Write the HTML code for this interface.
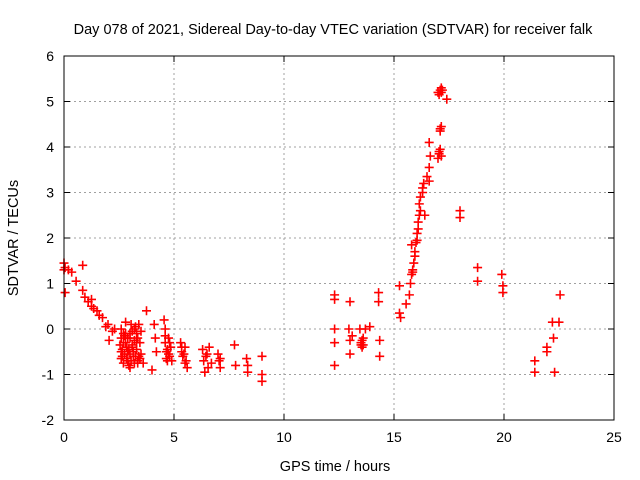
<!DOCTYPE html>
<html><head><meta charset="utf-8"><style>
body{margin:0;background:#fff}
svg{display:block;font-family:"Liberation Sans",sans-serif}
</style></head><body>
<svg id="chart" width="640" height="480" xmlns="http://www.w3.org/2000/svg">
<rect width="640" height="480" fill="#fff"/>
<text x="333" y="34" font-size="14.5" text-anchor="middle">Day 078 of 2021, Sidereal Day-to-day VTEC variation (SDTVAR) for receiver falk</text>
<g id="grid"></g>
<g id="ticks"></g>
<g id="marks"></g>
<rect x="64" y="56" width="550" height="364" fill="none" stroke="#000" stroke-width="1"/>
<text x="335" y="471" font-size="14.5" text-anchor="middle">GPS time / hours</text>
<text x="18" y="238" font-size="14.5" text-anchor="middle" transform="rotate(-90 18 238)">SDTVAR / TECUs</text>
</svg>
<script>
const xTicks=[0,5,10,15,20,25];
const yTicks=[-2,-1,0,1,2,3,4,5,6];
const hours=[0,0,0.05,0.05,0.2,0.35,0.55,0.85,0.85,0.95,1.1,1.25,1.25,1.35,1.5,1.6,1.75,1.9,2.0,2.05,2.2,2.3,
2.6,2.6,2.6,2.65,2.7,2.8,2.8,2.85,2.9,2.95,3.0,3.0,3.05,3.1,3.15,3.2,3.25,3.3,3.3,3.35,3.4,3.45,3.5,3.6,2.7,3.0,3.5,2.75,2.9,3.1,3.2,
2.55,2.65,2.75,2.85,2.95,3.05,3.15,3.25,3.35,3.45,2.7,2.8,2.9,3.0,3.1,3.2,3.3,3.4,2.6,3.35,
3.75,4.0,4.1,4.15,4.2,4.55,4.6,4.6,4.65,4.7,4.75,4.8,4.85,4.9,4.6,4.7,4.8,4.75,4.65,
5.3,5.35,5.4,5.5,5.55,5.6,5.35,5.45,5.5,6.3,6.35,6.4,6.5,6.6,6.7,6.45,6.55,7.0,7.05,7.1,7.1,7.75,7.8,8.3,8.35,8.35,9.0,9.0,9.0,
12.3,12.3,12.3,12.3,12.3,13.0,12.95,13.0,13.0,13.1,13.45,13.5,13.55,13.6,13.7,13.9,13.5,13.6,13.55,14.3,14.3,14.35,14.35,
15.25,15.25,15.3,15.55,15.7,15.75,15.8,15.85,15.9,15.95,16.0,15.8,16.05,16.1,16.15,16.15,16.2,16.3,16.35,16.5,16.6,16.65,16.6,17.0,17.05,17.1,17.15,17.0,17.1,17.15,17.4,16.6,16.4,
15.85,15.95,16.05,16.1,16.2,16.3,17.05,17.1,17.15,17.1,17.05,17.2,17.15,
18.0,18.0,18.8,18.8,19.9,19.95,19.95,21.4,21.4,21.95,21.95,22.2,22.25,22.3,22.5,22.55];
const values=[1.45,1.3,1.35,0.8,1.3,1.25,1.05,1.4,0.85,0.7,0.6,0.65,0.5,0.45,0.4,0.3,0.25,0.05,0.1,-0.25,-0.05,0.0,
0.0,-0.2,-0.5,-0.6,-0.3,0.15,-0.1,-0.4,-0.7,-0.8,-0.2,-0.55,0.1,-0.35,-0.6,-0.75,0.05,-0.1,-0.45,-0.7,0.1,-0.3,-0.55,-0.75,-0.75,-0.85,-0.05,-0.15,-0.5,-0.4,-0.25,
-0.35,-0.45,-0.55,-0.65,-0.45,-0.7,-0.5,-0.6,-0.2,-0.65,-0.1,-0.3,-0.2,-0.1,-0.05,0.0,-0.3,-0.6,-0.65,-0.75,
0.4,-0.9,0.1,-0.2,-0.5,0.2,0.0,-0.3,-0.5,-0.7,-0.2,-0.6,-0.4,-0.7,-0.15,-0.45,-0.3,-0.55,-0.65,
-0.3,-0.5,-0.6,-0.4,-0.7,-0.85,-0.4,-0.55,-0.75,-0.45,-0.7,-0.95,-0.55,-0.4,-0.75,-0.6,-0.85,-0.55,-0.7,-0.85,-0.65,-0.35,-0.8,-0.65,-0.8,-0.95,-0.6,-1.0,-1.15,
0.75,0.65,0.0,-0.3,-0.8,0.6,0.0,-0.25,-0.55,-0.15,0.0,-0.3,-0.4,-0.2,0.0,0.05,-0.35,-0.35,-0.25,0.8,0.6,-0.25,-0.6,
0.95,0.35,0.25,0.55,0.75,1.0,1.2,1.3,1.45,1.6,1.9,1.85,2.1,2.35,2.5,2.75,2.9,3.0,3.2,3.35,3.55,3.8,4.1,3.75,3.9,4.35,4.45,5.2,5.25,5.2,5.05,3.25,2.5,
1.25,1.7,1.95,2.2,2.6,3.1,3.85,3.95,3.8,4.4,5.15,5.25,5.3,
2.45,2.6,1.35,1.05,1.2,0.95,0.8,-0.7,-0.95,-0.4,-0.5,0.15,-0.2,-0.95,0.15,0.75];
const NS="http://www.w3.org/2000/svg";
const X0=64,X1=614,Y0=420,Y1=56;
function xs(h){return X0+(h-0)/(25-0)*(X1-X0);}
function ys(v){return Y0-(v+2)/(6+2)*(Y0-Y1);}
const grid=document.getElementById('grid'),ticks=document.getElementById('ticks'),marks=document.getElementById('marks');
function mk(t,a,p){const e=document.createElementNS(NS,t);for(const k in a)e.setAttribute(k,a[k]);p.appendChild(e);return e;}
xTicks.forEach(t=>{const x=xs(t);
 if(t>0&&t<25){const l=mk('line',{x1:x,y1:Y0,x2:x,y2:Y1,stroke:'#a0a0a0','stroke-dasharray':'2,3'},grid);
 
 }
 mk('line',{x1:x,y1:Y0,x2:x,y2:Y0-6,stroke:'#000'},ticks);
 mk('line',{x1:x,y1:Y1,x2:x,y2:Y1+6,stroke:'#000'},ticks);
 const tx=mk('text',{x:x,y:Y0+22,'font-size':14,'text-anchor':'middle'},ticks);tx.textContent=t;
 
 
});
yTicks.forEach(t=>{const y=ys(t);
 if(t>-2&&t<6){const l=mk('line',{x1:X0,y1:y,x2:X1,y2:y,stroke:'#a0a0a0','stroke-dasharray':'2,3'},grid);
 
 }
 mk('line',{x1:X0,y1:y,x2:X0+6,y2:y,stroke:'#000'},ticks);
 mk('line',{x1:X1,y1:y,x2:X1-6,y2:y,stroke:'#000'},ticks);
 const tx=mk('text',{x:X0-10,y:y+5,'font-size':14,'text-anchor':'end'},ticks);tx.textContent=t;
 
 
});
hours.forEach((h,i)=>{const x=xs(h),y=ys(values[i]);
 const p=mk('path',{d:`M${x-4.5},${y}H${x+4.5}M${x},${y-4.5}V${y+4.5}`,stroke:'#f00','stroke-width':1.6,fill:'none'},marks);
 
 
});
</script>
</body></html>
